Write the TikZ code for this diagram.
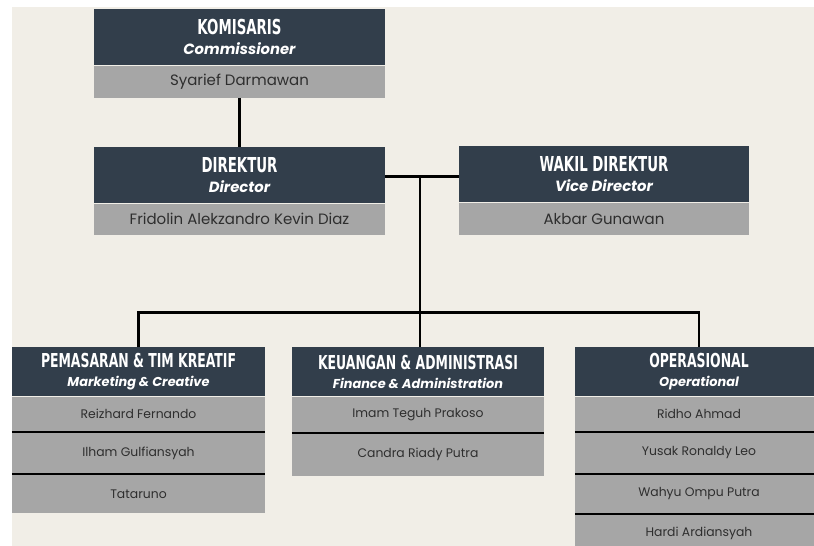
\documentclass[tikz,border=0pt]{standalone}
\usepackage{fontspec}
\setmainfont{Poppins}
\newfontfamily\headfont[FakeStretch=0.72]{DejaVu Sans Condensed}
\newfontfamily\subfont{Poppins}
\newfontfamily\namefont{Poppins}
\definecolor{bgc}{HTML}{F1EEE7}
\definecolor{darkc}{HTML}{323E4B}
\definecolor{grayc}{HTML}{A6A6A6}
\definecolor{namec}{HTML}{2E2E2E}
\tikzset{
  x=1pt, y=-1pt,
  hdr/.style={fill=darkc, text=white, inner sep=0pt, align=center, anchor=north},
  bighdr/.style={hdr, minimum height=56, font=\fontsize{10}{20}\selectfont},
  smallhdr/.style={hdr, minimum height=49, font=\fontsize{10}{18.7}\selectfont},
  row/.style={fill=grayc, text=namec, inner sep=0pt, anchor=north, font=\namefont\fontsize{12.4}{15}\selectfont},
  toprow/.style={row, font=\namefont\fontsize{15}{17}\selectfont},
  link/.style={line width=2.6pt, black},
  sep/.style={line width=2pt, black},
}
\newcommand{\bigtitle}[2]{{\headfont\bfseries\fontsize{20.6}{20}\selectfont #1}\\{\subfont\bfseries\itshape\fontsize{14.8}{15}\selectfont #2}}
\newcommand{\smalltitle}[2]{{\headfont\bfseries\fontsize{19.2}{18}\selectfont #1}\\{\subfont\bfseries\itshape\fontsize{12.9}{13}\selectfont #2}}
\begin{document}
\begin{tikzpicture}
\useasboundingbox (0,0) rectangle (814,546);
\clip (0,0) rectangle (814,546);
\fill[white] (0,0) rectangle (814,546);
\fill[bgc] (12,7) rectangle (814,546);

% Komisaris
\node[bighdr, minimum width=291] (kh) at (239.5,9) {\bigtitle{KOMISARIS}{Commissioner}};
\node[toprow, minimum width=291, minimum height=32] (kr) at (kh.south) {Syarief Darmawan};

% Direktur
\node[bighdr, minimum width=291] (dh) at (239.5,147) {\bigtitle{DIREKTUR}{Director}};
\node[toprow, minimum width=291, minimum height=31] (dr) at (dh.south) {Fridolin Alekzandro Kevin Diaz};

% Wakil Direktur
\node[bighdr, minimum width=290] (wh) at (604,146) {\bigtitle{WAKIL DIREKTUR}{Vice Director}};
\node[toprow, minimum width=290, minimum height=32] (wr) at (wh.south) {Akbar Gunawan};

% Bottom: Pemasaran
\node[smallhdr, minimum width=253] (ph) at (138.5,347) {\smalltitle{PEMASARAN \& TIM KREATIF}{Marketing \& Creative}};
\node[row, minimum width=253, minimum height=35] (p1) at (ph.south) {Reizhard Fernando};
\node[row, minimum width=253, minimum height=42] (p2) at (p1.south) {Ilham Gulfiansyah};
\node[row, minimum width=253, minimum height=39] (p3) at (p2.south) {Tataruno};

% Keuangan
\node[smallhdr, minimum width=252] (fh) at (418,347) {\smalltitle{KEUANGAN \& ADMINISTRASI}{Finance \& Administration}};
\node[row, minimum width=252, minimum height=36.5] (f1) at (fh.south) {Imam Teguh Prakoso};
\node[row, minimum width=252, minimum height=42.5] (f2) at (f1.south) {Candra Riady Putra};

% Operasional
\node[smallhdr, minimum width=248] (oh) at (699,347) {\smalltitle{OPERASIONAL}{Operational}};
\node[row, minimum width=248, minimum height=35] (o1) at (oh.south) {Ridho Ahmad};
\node[row, minimum width=248, minimum height=42] (o2) at (o1.south) {Yusak Ronaldy Leo};
\node[row, minimum width=248, minimum height=39] (o3) at (o2.south) {Wahyu Ompu Putra};
\node[row, minimum width=248, minimum height=39] (o4) at (o3.south) {Hardi Ardiansyah};

% separators
\draw[sep] (p1.south west) -- (p1.south east);
\draw[sep] (p2.south west) -- (p2.south east);
\draw[sep] (f1.south west) -- (f1.south east);
\draw[sep] (o1.south west) -- (o1.south east);
\draw[sep] (o2.south west) -- (o2.south east);
\draw[sep] (o3.south west) -- (o3.south east);

% connectors
\coordinate (jt) at (420,176.5);
\coordinate (jb) at (420,312.5);
\draw[link] (kr.south) -- (dh.north);
\draw[link] (dh.east |- jt) -- (wh.west |- jt);
\draw[link] (jt) -- (jb);
\draw[link] (ph.north) -- (ph.north |- jb) -- (oh.north |- jb) -- (oh.north);
\draw[link] (jb) -- (fh.north -| jb);
\end{tikzpicture}
\end{document}
